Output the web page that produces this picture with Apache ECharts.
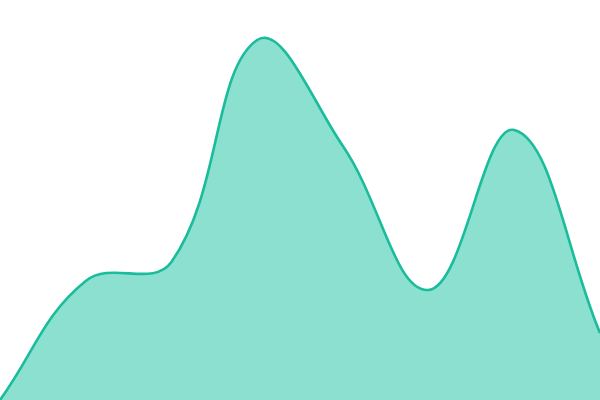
<!DOCTYPE html>
<html><head><meta charset="utf-8">
<script src="https://cdn.jsdelivr.net/npm/echarts@6/dist/echarts.min.js"></script>
<style>html,body{margin:0;padding:0;background:#fff}#c{width:600px;height:400px}</style>
</head><body><div id="c"></div>
<script>
const categories = ['A','B','C','D','E','F','G','H'];
const values = [0, 119, 138, 360, 254, 110, 270, 67];
const tension = 0.4;

function splinePath(pts, w, h) {
  // cardinal-style spline with distance-ratio control points (tension 0.4)
  const cps = pts.map((p, i) => {
    const prev = pts[i - 1] || p, next = pts[i + 1] || p;
    const d01 = Math.hypot(p[0] - prev[0], p[1] - prev[1]);
    const d12 = Math.hypot(next[0] - p[0], next[1] - p[1]);
    let s01 = d01 / (d01 + d12), s12 = d12 / (d01 + d12);
    if (isNaN(s01)) s01 = 0; if (isNaN(s12)) s12 = 0;
    const fa = tension * s01, fb = tension * s12;
    const cap = (x, y) => [Math.max(0, Math.min(w, x)), Math.max(0, Math.min(h, y))];
    return {
      prev: cap(p[0] - fa * (next[0] - prev[0]), p[1] - fa * (next[1] - prev[1])),
      next: cap(p[0] + fb * (next[0] - prev[0]), p[1] + fb * (next[1] - prev[1]))
    };
  });
  let d = 'M' + pts[0][0] + ' ' + pts[0][1];
  for (let i = 1; i < pts.length; i++) {
    const a = cps[i - 1].next, b = cps[i].prev, p = pts[i];
    d += ' C' + a[0] + ' ' + a[1] + ' ' + b[0] + ' ' + b[1] + ' ' + p[0] + ' ' + p[1];
  }
  return d;
}

const chart = echarts.init(document.getElementById('c'));
chart.setOption({
  animation: false,
  grid: {left: 0, right: 0, top: 0, bottom: 0},
  xAxis: {type: 'category', data: categories, boundaryGap: false, show: false},
  yAxis: {type: 'value', min: 0, max: 400, show: false},
  series: [{
    type: 'custom',
    data: values.map((v, i) => [i, v]),
    encode: {x: 0, y: 1},
    renderItem: function (params, api) {
      if (params.dataIndex !== 0) return;
      const pts = values.map((v, i) => api.coord([i, v]));
      const base0 = api.coord([0, 0]), baseN = api.coord([values.length - 1, 0]);
      const cs = params.coordSys;
      const line = splinePath(pts, cs.x + cs.width, cs.y + cs.height);
      const area = line + ' L' + baseN[0] + ' ' + baseN[1] + ' L' + base0[0] + ' ' + base0[1] + ' Z';
      return {
        type: 'group',
        children: [
          {type: 'path', shape: {pathData: area}, style: {fill: '#8be0cf', stroke: null}},
          {type: 'path', shape: {pathData: line}, style: {fill: null, stroke: '#1abc9c', lineWidth: 2.6}}
        ]
      };
    }
  }]
});
</script></body></html>
